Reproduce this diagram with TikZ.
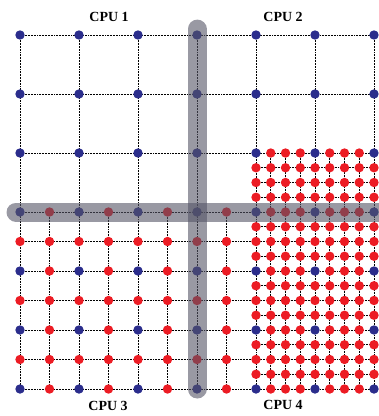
\documentclass[tikz,border=0pt]{standalone}
\usepackage{fontspec}
\setmainfont{Liberation Serif}
\definecolor{dotblue}{RGB}{43,45,140}
\definecolor{dotred}{RGB}{236,28,36}
\definecolor{bandgray}{RGB}{85,85,102}
\newcommand\gridpt[2]{%
  \pgfmathtruncatemacro\mmod{mod(#1,4)+mod(#2,4)}%
  \ifnum\mmod=0
    \fill[dotblue] (#1,#2) circle[radius=4.7bp];
  \else
    \fill[dotred] (#1,#2) circle[radius=4.7bp];
  \fi}
\begin{document}
\begin{tikzpicture}[x=1bp,y=-1bp,
  gridline/.style={densely dotted, line width=0.55bp, black},
  band/.style={line width=19bp, line cap=round, draw=bandgray, draw opacity=0.6},
  cpulabel/.style={font=\bfseries\fontsize{14}{16}\selectfont, inner sep=0pt}]
\useasboundingbox (0,0) rectangle (379,416);
\begin{scope}[shift={(20,35)}, x=14.75bp, y=-14.75bp]
  % grid lines
  \foreach \b in {0,4,8,12,14,...,24} \draw[gridline] (0,\b) -- (24,\b);
  \foreach \b in {9,10,11,13,15,...,23} \draw[gridline] (16,\b) -- (24,\b);
  \foreach \a in {0,4,8,12,16,20,24} \draw[gridline] (\a,0) -- (\a,24);
  \foreach \a in {2,6,10,14} \draw[gridline] (\a,12) -- (\a,24);
  \foreach \a in {17,18,19,21,22,23} \draw[gridline] (\a,8) -- (\a,24);
  % dots
  \foreach \a in {0,4,8,12} \foreach \b in {0,4,8} {\gridpt{\a}{\b}}
  \foreach \a in {16,20,24} \foreach \b in {0,4} {\gridpt{\a}{\b}}
  \foreach \a in {0,2,...,14} \foreach \b in {12,14,...,24} {\gridpt{\a}{\b}}
  \foreach \a in {16,...,24} \foreach \b in {8,...,24} {\gridpt{\a}{\b}}
  % bands
  \draw[band] (-0.27,12) -- (26,12);
  \draw[band] (12,-0.4) -- (12,24);
\end{scope}
\node[cpulabel] (cpu1) at (109,17) {CPU 1};
\node[cpulabel] (cpu2) at (283,17) {CPU 2};
\node[cpulabel] (cpu3) at (108,406) {CPU 3};
\node[cpulabel] (cpu4) at (283,405) {CPU 4};
\end{tikzpicture}
\end{document}
